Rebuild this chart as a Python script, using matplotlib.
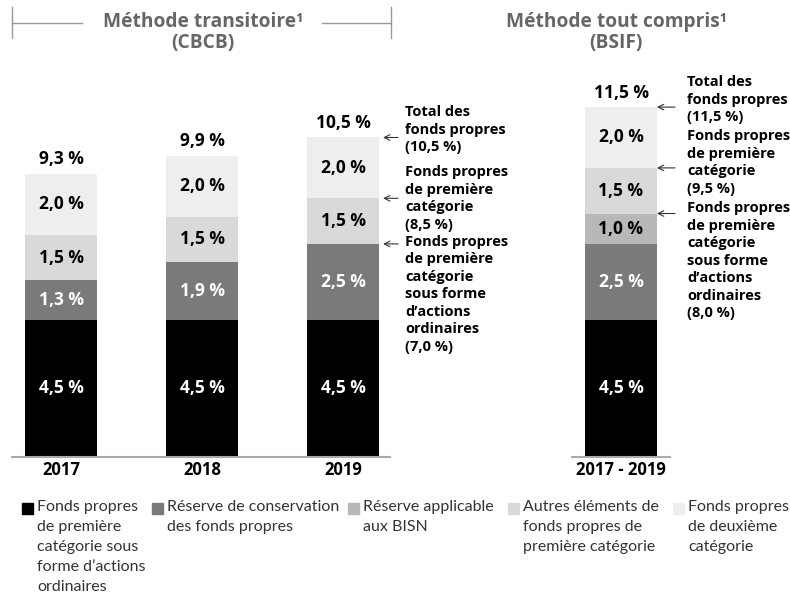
import matplotlib.pyplot as plt
from matplotlib.patches import Rectangle
from matplotlib.lines import Line2D

# data
years = ['2017', '2018', '2019']
cet1 = [4.5, 4.5, 4.5]
conservation = [1.3, 1.9, 2.5]
dsib = [0.0, 0.0, 0.0]
at1 = [1.5, 1.5, 1.5]
tier2 = [2.0, 2.0, 2.0]
totals = [9.3, 9.9, 10.5]

osfi_label = '2017 - 2019'
osfi_parts = [4.5, 2.5, 1.0, 1.5, 2.0]
osfi_total = 11.5

seg_names = ['Fonds propres\nde première\ncatégorie sous\nforme d\u2019actions\nordinaires',
             'Réserve de conservation\ndes fonds propres',
             'Réserve applicable\naux BISN',
             'Autres éléments de\nfonds propres de\npremière catégorie',
             'Fonds propres\nde deuxième\ncatégorie']
colors = ['#000000', '#7a7a7a', '#b8b8b8', '#d9d9d9', '#eeeeee']
txt_colors = ['white', 'white', 'black', 'black', 'black']

left_notes = [('Total des\nfonds propres\n(10,5 %)', 10.5, 10.75, 'center'),
              ('Fonds propres\nde première\ncatégorie\n(8,5 %)', 8.5, 8.5, 'center'),
              ('Fonds propres\nde première\ncatégorie\nsous forme\nd\u2019actions\nordinaires\n(7,0 %)', 7.0, 7.3, 'top')]
right_notes = [('Total des\nfonds propres\n(11,5 %)', 11.5, 11.74, 'center'),
               ('Fonds propres\nde première\ncatégorie\n(9,5 %)', 9.5, 9.67, 'center'),
               ('Fonds propres\nde première\ncatégorie\nsous forme\nd\u2019actions\nordinaires\n(8,0 %)', 8.0, 8.4, 'top')]

BOLD = 'Open Sans'
NARROW = ['Lato', 'DejaVu Sans']

W, H = 790, 595
fig = plt.figure(figsize=(W / 100, H / 100), dpi=100)

px_per_pct = 30.4
base_px = 456.7
ymax = 13.0


def make_axes(x0, x1):
    ax = fig.add_axes([x0 / W, (H - base_px) / H, (x1 - x0) / W, ymax * px_per_pct / H])
    ax.set_ylim(0, ymax)
    for s in ['top', 'right', 'left']:
        ax.spines[s].set_visible(False)
    ax.spines['bottom'].set_color('#aaaaaa')
    ax.spines['bottom'].set_linewidth(1.5)
    ax.set_yticks([])
    ax.tick_params(axis='x', length=0, pad=3)
    return ax


def draw_stack(ax, xs, parts_by_seg, tots):
    bottoms = [0.0] * len(xs)
    for k, vals in enumerate(parts_by_seg):
        ax.bar(xs, vals, 0.51, bottom=bottoms, color=colors[k], linewidth=0)
        for x, v, b in zip(xs, vals, bottoms):
            if v > 0:
                ax.text(x, b + v / 2, f'{v:.1f} %'.replace('.', ','), ha='center', va='center',
                        color=txt_colors[k], fontsize=12.5, fontweight='bold', family=BOLD)
        bottoms = [b + v for b, v in zip(bottoms, vals)]
    for x, t in zip(xs, tots):
        ax.annotate(f'{t:.1f} %'.replace('.', ','), (x, t), xytext=(0, 10.5), textcoords='offset points',
                    ha='center', va='center', fontsize=12.5, fontweight='bold', family=BOLD)


def draw_notes(ax, x_head, x_tail, x_text, notes):
    for label, yv, ytxt, va in notes:
        ax.annotate('', xy=(x_head, yv), xytext=(x_tail, yv),
                    arrowprops=dict(arrowstyle='->', color='#333333', lw=0.8, shrinkA=0, shrinkB=0),
                    annotation_clip=False)
        ax.text(x_text, ytxt, label, ha='left', va=va, fontsize=10.5, fontweight='bold',
                family=BOLD, linespacing=1.32, clip_on=False)


# left panel (CBCB)
ax1 = make_axes(12, 390)
ax1.set_xlim(-0.348, 2.333)
xs = list(range(len(years)))
draw_stack(ax1, xs, [cet1, conservation, dsib, at1, tier2], totals)
ax1.set_xticks(xs)
ax1.set_xticklabels(years, fontsize=12, fontweight='bold', family=BOLD)
draw_notes(ax1, 2.284, 2.39, 2.44, left_notes)

# right panel (BSIF)
ax2 = make_axes(572, 670)
ax2.set_xlim(-0.3475, 0.3475)
draw_stack(ax2, [0], [[v] for v in osfi_parts], [osfi_total])
ax2.set_xticks([0])
ax2.set_xticklabels([osfi_label], fontsize=12, fontweight='bold', family=BOLD)
draw_notes(ax2, 0.255, 0.383, 0.468, right_notes)

# headers
title_kw = dict(ha='center', va='center', fontsize=13.8, fontweight='bold', color='#666666', family=BOLD)
fig.text(203 / W, 1 - 22 / H, 'Méthode transitoire\u00b9', **title_kw)
fig.text(203 / W, 1 - 43 / H, '(CBCB)', **title_kw)
fig.text(616 / W, 1 - 22 / H, 'Méthode tout compris\u00b9', **title_kw)
fig.text(616 / W, 1 - 43 / H, '(BSIF)', **title_kw)
lc = '#999999'
for xa, xb in [(12, 82), (322, 391)]:
    fig.add_artist(Line2D([xa / W, xb / W], [1 - 23 / H, 1 - 23 / H], color=lc, lw=1))
for xv in [12, 391]:
    fig.add_artist(Line2D([xv / W, xv / W], [1 - 7 / H, 1 - 38 / H], color=lc, lw=1))

# legend
leg_x = [22, 152, 348, 508, 673]
for k, (xl, name) in enumerate(zip(leg_x, seg_names)):
    fig.add_artist(Rectangle((xl / W, 1 - 514 / H), 11 / W, 11 / H, color=colors[k],
                             transform=fig.transFigure))
    fig.text((xl + 15) / W, 1 - 500 / H, name, ha='left', va='top', fontsize=11.5,
             family=NARROW, color='#333333', linespacing=1.55)

fig.savefig('out.png', dpi=100)
